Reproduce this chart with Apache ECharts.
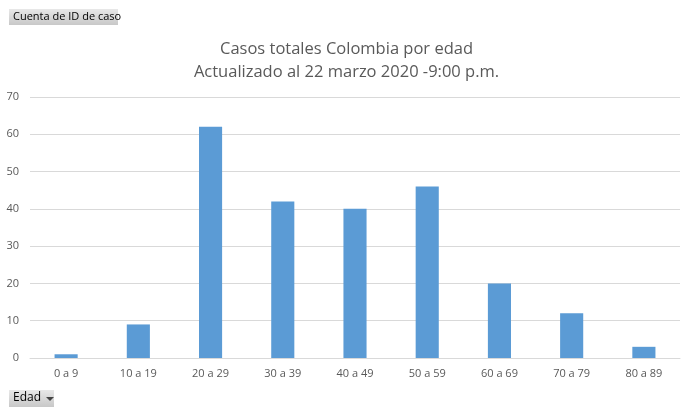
<!DOCTYPE html>
<html><head><meta charset="utf-8">
<script src="https://cdn.jsdelivr.net/npm/echarts@6/dist/echarts.min.js"></script>
<style>html,body{margin:0;padding:0;background:#fff}#c{width:693px;height:410px}</style>
</head><body><div id="c"></div>
<script>
var categories = ['0 a 9','10 a 19','20 a 29','30 a 39','40 a 49','50 a 59','60 a 69','70 a 79','80 a 89'];
var values = [1, 9, 62, 42, 40, 46, 20, 12, 3];
var yTicks = {min: 0, max: 70, interval: 10};
var titleLines = ['Casos totales Colombia por edad', 'Actualizado al 22 marzo 2020 -9:00 p.m.'];
var fieldButton = 'Cuenta de ID de caso';
var axisButton = 'Edad';

var font = 'Open Sans';
var chart = echarts.init(document.getElementById('c'));
var btnGrad = new echarts.graphic.LinearGradient(0,0,0,1,[{offset:0,color:'#e8e8e8'},{offset:1,color:'#c8c8c8'}]);
chart.setOption({
  animation: false,
  textStyle: {fontFamily: font},
  title: {
    text: titleLines.join('\n'), left: 'center', top: 33,
    textStyle: {fontFamily: font, fontSize: 16.5, fontWeight: 'normal', color: '#595959', lineHeight: 23}
  },
  grid: {left: 30, right: 13, top: 97, bottom: 52},
  xAxis: {
    type: 'category', data: categories,
    axisLine: {lineStyle: {color: '#d9d9d9'}},
    axisTick: {show: false},
    axisLabel: {color: '#595959', fontSize: 11, margin: 10}
  },
  yAxis: {
    type: 'value', min: yTicks.min, max: yTicks.max, interval: yTicks.interval,
    axisLine: {show: false}, axisTick: {show: false},
    axisLabel: {color: '#595959', fontSize: 11, margin: 11},
    splitLine: {lineStyle: {color: '#d9d9d9'}}
  },
  series: [{
    type: 'bar', data: values, barWidth: '32%',
    itemStyle: {color: '#5b9bd5'}
  }],
  graphic: [
    {type: 'group', left: 9, top: 9, children: [
      {type: 'rect', shape: {x:0,y:0,width:109,height:16}, style: {fill: btnGrad}},
      {type: 'text', x: 4, y: 2, style: {text: fieldButton, font: '11px ' + font, fill: '#000'}}
    ]},
    {type: 'group', left: 9, top: 390, children: [
      {type: 'rect', shape: {x:0,y:0,width:45,height:17}, style: {fill: btnGrad}},
      {type: 'text', x: 4, y: 2, style: {text: axisButton, font: '12px ' + font, fill: '#000'}},
      {type: 'polygon', shape: {points: [[37,7],[45,7],[41,11]]}, style: {fill: '#444'}}
    ]}
  ]
});
</script></body></html>
